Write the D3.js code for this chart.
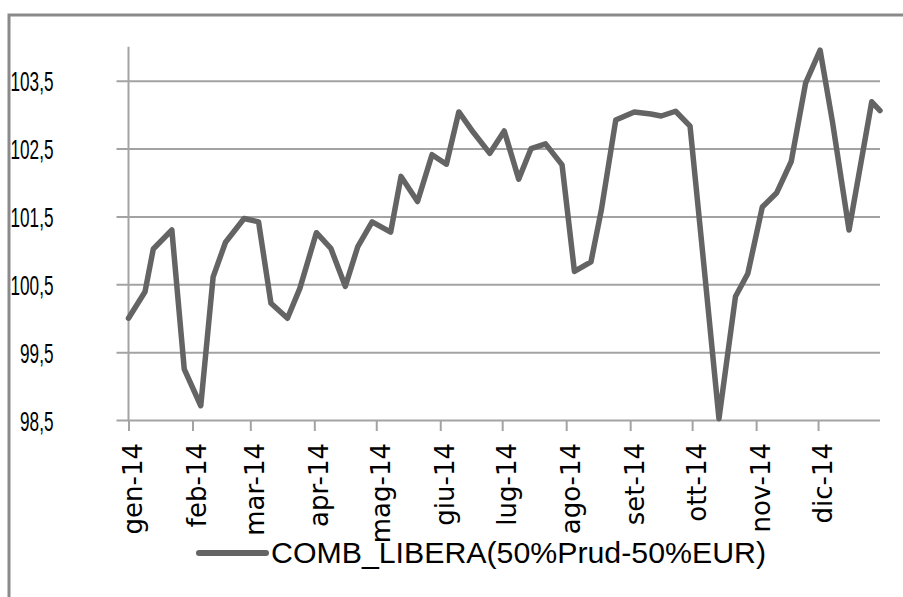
<!DOCTYPE html>
<html><head><meta charset="utf-8">
<script src="https://cdn.jsdelivr.net/npm/d3@7"></script>
<style>html,body{margin:0;padding:0;background:#fff;overflow:hidden}</style>
</head><body>
<svg id="c" width="903" height="597"></svg>
<script>
const dates = ["2014-01-01","2014-01-09","2014-01-13","2014-01-22","2014-01-28",
"2014-02-05","2014-02-11","2014-02-17","2014-02-26",
"2014-03-05","2014-03-11","2014-03-19","2014-03-25",
"2014-04-02","2014-04-09","2014-04-16","2014-04-22","2014-04-29",
"2014-05-08","2014-05-13","2014-05-21","2014-05-28",
"2014-06-04","2014-06-10","2014-06-17","2014-06-25",
"2014-07-02","2014-07-09","2014-07-15","2014-07-22","2014-07-30",
"2014-08-05","2014-08-13","2014-08-18","2014-08-25",
"2014-09-03","2014-09-11","2014-09-16","2014-09-23","2014-09-30",
"2014-10-07","2014-10-14","2014-10-22","2014-10-28",
"2014-11-04","2014-11-11","2014-11-18","2014-11-25",
"2014-12-02","2014-12-08","2014-12-16","2014-12-27","2014-12-31"];
const values = [100.0,100.39,101.02,101.3,99.25,98.71,100.61,101.12,101.47,101.42,
100.22,100.0,100.44,101.26,101.03,100.47,101.05,101.42,101.27,102.09,
101.72,102.41,102.27,103.04,102.74,102.43,102.76,102.05,102.5,102.57,
102.26,100.69,100.83,101.59,102.92,103.04,103.01,102.98,103.05,102.83,
100.69,98.52,100.32,100.66,101.64,101.85,102.31,103.47,103.95,102.89,
101.3,103.19,103.06];
const monthLabels = ["gen-14","feb-14","mar-14","apr-14","mag-14","giu-14","lug-14","ago-14","set-14","ott-14","nov-14","dic-14"];
const yTicks = [98.5,99.5,100.5,101.5,102.5,103.5];
const seriesName = "COMB_LIBERA(50%Prud-50%EUR)";

const parse = d3.timeParse("%Y-%m-%d");
const data = dates.map((d,i)=>({date:parse(d), v:values[i]}));

const svg = d3.select("#c");
const gridCol = "#a3a3a3", lineCol = "#646464";

const x = d3.scaleTime().domain([parse("2014-01-01"), parse("2014-12-31")]).range([128.5, 880]);
const y = d3.scaleLinear().domain([98.5, 104]).range([420, 46.8]);

// outer border
svg.append("path").attr("d","M9,597V15H903").attr("fill","none").attr("stroke","#8a8a8a").attr("stroke-width",3);

// y gridlines with ticks
const fmt = d=>d3.format(".1f")(d).replace(".",",");
const yAxis = d3.axisLeft(y).tickValues(yTicks).tickSize(-(880-128.5)).tickSizeOuter(0).tickFormat(fmt);
const gy = svg.append("g").attr("transform","translate(128.5,0)").call(yAxis);
gy.select(".domain").remove();
gy.selectAll(".tick line").attr("stroke",gridCol).attr("stroke-width",2).attr("x1",-12);
const yLab = gy.selectAll(".tick text").attr("text-anchor","end").attr("x",-75)
  .style("font-family","'Liberation Sans',sans-serif").style("font-size","28px").attr("fill","#000")
  .attr("dy","0.36em");
// condensed look: scale so that "103,5" spans ~43px
let refW = 0;
yLab.each(function(d){ if (d===103.5) refW = this.getComputedTextLength(); });
const k = refW ? 43/refW : 0.62;
yLab.each(function(){
  const w = this.getComputedTextLength()*k;
  d3.select(this).attr("textLength",w).attr("lengthAdjust","spacingAndGlyphs");
});

// y axis line
svg.append("line").attr("x1",128.5).attr("x2",128.5).attr("y1",y(104)).attr("y2",420).attr("stroke",gridCol).attr("stroke-width",2);

// x axis
const months = d3.timeMonth.range(parse("2014-01-01"), parse("2014-12-31"));
const xAxis = d3.axisBottom(x).tickValues(months).tickSize(11).tickSizeOuter(0)
  .tickFormat((d,i)=>monthLabels[i]);
const gx = svg.append("g").attr("transform","translate(0,420)").call(xAxis);
gx.select(".domain").remove();
gx.selectAll(".tick line").attr("stroke",gridCol).attr("stroke-width",2);
gx.selectAll(".tick text").attr("transform","rotate(-90)").attr("text-anchor","end")
  .attr("x",-23).attr("y",0).attr("dy","0.5em")
  .style("font-family","'DejaVu Sans',sans-serif").style("font-size","26px").attr("fill","#000");

// series line
const line = d3.line().x(d=>x(d.date)).y(d=>y(d.v));
svg.append("path").datum(data).attr("d",line).attr("fill","none").attr("stroke",lineCol)
  .attr("stroke-width",5.5).attr("stroke-linejoin","round").attr("stroke-linecap","round");

// legend
svg.append("line").attr("x1",199).attr("x2",266).attr("y1",553).attr("y2",553)
  .attr("stroke",lineCol).attr("stroke-width",6).attr("stroke-linecap","round");
svg.append("text").attr("x",271).attr("y",563).text(seriesName)
  .style("font-family","'Liberation Sans',sans-serif").style("font-size","29px")
  .attr("textLength",495).attr("lengthAdjust","spacingAndGlyphs").attr("fill","#000");
</script>
</body></html>
